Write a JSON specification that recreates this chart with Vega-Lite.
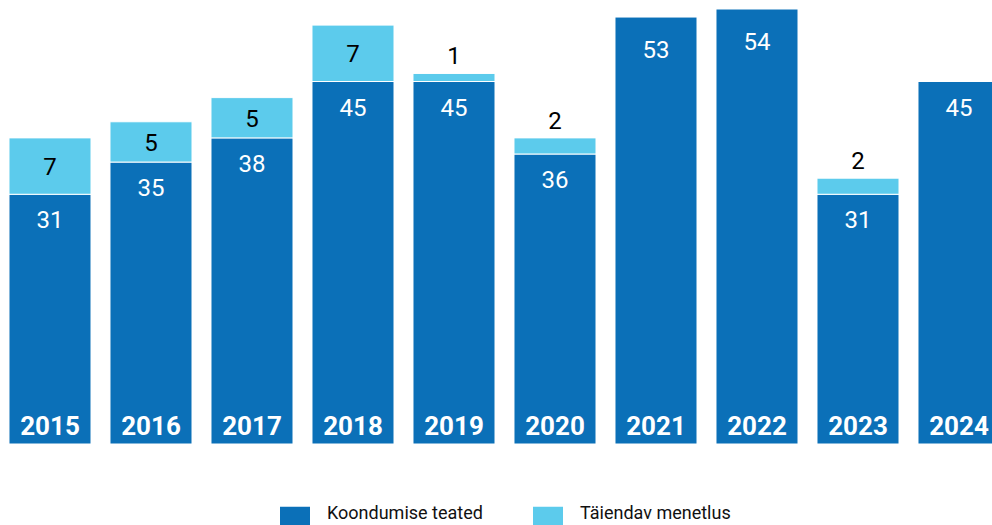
{
  "$schema": "https://vega.github.io/schema/vega-lite/v6.json",
  "width": 992,
  "height": 525,
  "padding": 0,
  "autosize": {"type": "none"},
  "config": {"view": {"stroke": null}, "font": "Roboto"},
  "data": {"values": [
    {"year": "2015", "series": "Koondumise teated", "value": 31},
    {"year": "2015", "series": "Täiendav menetlus", "value": 7},
    {"year": "2016", "series": "Koondumise teated", "value": 35},
    {"year": "2016", "series": "Täiendav menetlus", "value": 5},
    {"year": "2017", "series": "Koondumise teated", "value": 38},
    {"year": "2017", "series": "Täiendav menetlus", "value": 5},
    {"year": "2018", "series": "Koondumise teated", "value": 45},
    {"year": "2018", "series": "Täiendav menetlus", "value": 7},
    {"year": "2019", "series": "Koondumise teated", "value": 45},
    {"year": "2019", "series": "Täiendav menetlus", "value": 1},
    {"year": "2020", "series": "Koondumise teated", "value": 36},
    {"year": "2020", "series": "Täiendav menetlus", "value": 2},
    {"year": "2021", "series": "Koondumise teated", "value": 53},
    {"year": "2022", "series": "Koondumise teated", "value": 54},
    {"year": "2023", "series": "Koondumise teated", "value": 31},
    {"year": "2023", "series": "Täiendav menetlus", "value": 2},
    {"year": "2024", "series": "Koondumise teated", "value": 45}
  ]},
  "transform": [
    {"joinaggregate": [{"op": "sum", "field": "value", "as": "total"}], "groupby": ["year"]}
  ],
  "encoding": {
    "x": {
      "field": "year", "type": "nominal", "axis": null,
      "scale": {"range": [0, 1009], "paddingInner": 0.188, "paddingOuter": 0.089}
    }
  },
  "layer": [
    {
      "mark": {"type": "bar", "stroke": "white", "strokeWidth": 1},
      "encoding": {
        "y": {"field": "value", "type": "quantitative", "axis": null, "stack": "zero",
              "scale": {"domain": [0, 54], "range": [444, 9], "nice": false}},
        "color": {
          "field": "series", "type": "nominal",
          "scale": {"domain": ["Koondumise teated", "Täiendav menetlus"], "range": ["#0b70b8", "#5ccbec"]},
          "legend": {
            "title": null, "orient": "none", "legendX": 280, "legendY": 499,
            "direction": "horizontal", "symbolType": "M-1,-0.5H1V1.5H-1Z", "symbolSize": 900,
            "symbolStrokeWidth": 0, "symbolOpacity": 1, "labelFontSize": 18, "labelColor": "#111",
            "labelOffset": 17, "columnPadding": 50, "labelLimit": 0, "labelFont": "Roboto"
          }
        },
        "order": {"field": "series", "sort": "ascending"}
      }
    },
    {
      "transform": [{"filter": "datum.series == 'Koondumise teated' && datum.value < 50"}],
      "mark": {"type": "text", "color": "white", "fontSize": 24, "dy": 27, "baseline": "middle"},
      "encoding": {"y": {"field": "value", "type": "quantitative", "stack": null}, "text": {"field": "value"}}
    },
    {
      "transform": [{"filter": "datum.series == 'Koondumise teated' && datum.value >= 50"}],
      "mark": {"type": "text", "color": "white", "fontSize": 24, "dy": 34, "baseline": "middle"},
      "encoding": {"y": {"field": "value", "type": "quantitative", "stack": null}, "text": {"field": "value"}}
    },
    {
      "transform": [{"filter": "datum.series == 'Täiendav menetlus' && datum.value == 7"}],
      "mark": {"type": "text", "color": "black", "fontSize": 24, "dy": 30, "baseline": "middle"},
      "encoding": {"y": {"field": "total", "type": "quantitative", "stack": null}, "text": {"field": "value"}}
    },
    {
      "transform": [{"filter": "datum.series == 'Täiendav menetlus' && datum.value == 5"}],
      "mark": {"type": "text", "color": "black", "fontSize": 24, "dy": 22, "baseline": "middle"},
      "encoding": {"y": {"field": "total", "type": "quantitative", "stack": null}, "text": {"field": "value"}}
    },
    {
      "transform": [{"filter": "datum.series == 'Täiendav menetlus' && datum.value < 3"}],
      "mark": {"type": "text", "color": "black", "fontSize": 24, "dy": -16, "baseline": "middle"},
      "encoding": {"y": {"field": "total", "type": "quantitative", "stack": null}, "text": {"field": "value"}}
    },
    {
      "transform": [{"filter": "datum.series == 'Koondumise teated'"}],
      "mark": {"type": "text", "color": "white", "fontSize": 26, "fontWeight": "bold", "dy": -17, "baseline": "middle"},
      "encoding": {"y": {"datum": 0, "type": "quantitative"}, "text": {"field": "year"}}
    }
  ]
}
